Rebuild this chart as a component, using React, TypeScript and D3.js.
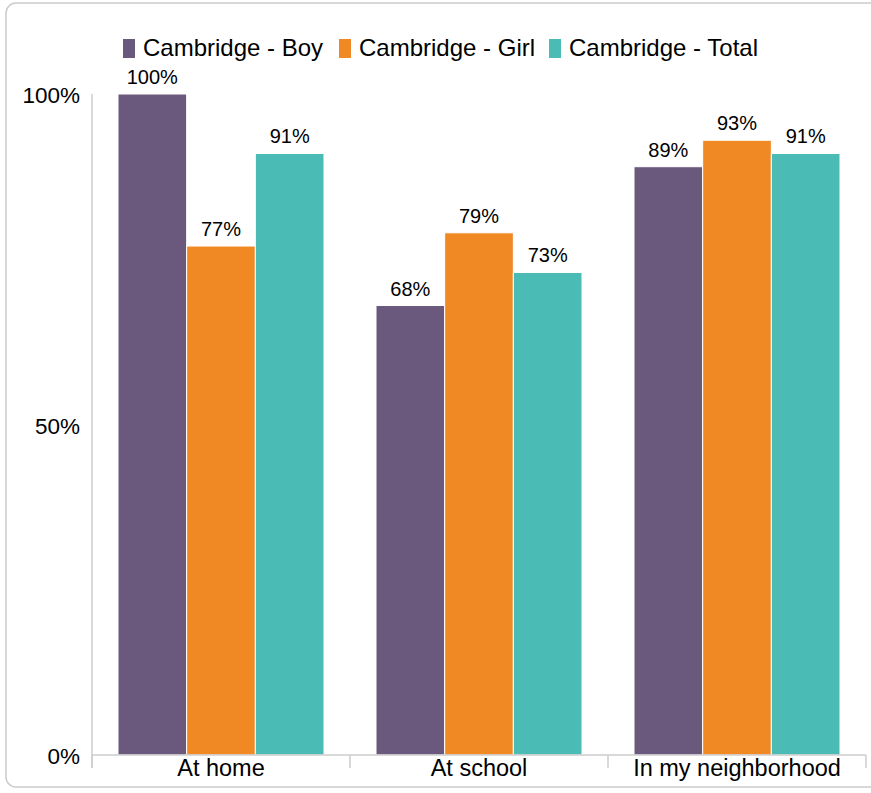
import React from "react";
import * as d3 from "d3";

const categories = ["At home", "At school", "In my neighborhood"];
const seriesNames = ["Cambridge - Boy", "Cambridge - Girl", "Cambridge - Total"];
const boyValues = [100, 68, 89];
const girlValues = [77, 79, 93];
const totalValues = [91, 73, 91];
const yTicks = [0, 50, 100];
const colors = ["#6a587d", "#f08824", "#4bbbb5"];

export default function App() {
  const width = 871;
  const height = 793;
  const left = 92;
  const right = 866;
  const top = 94;
  const bottom = 755;
  const series = [boyValues, girlValues, totalValues];

  const x = d3.scaleBand<string>().domain(categories).range([left, right]).paddingInner(0).paddingOuter(0);
  const inner = d3
    .scaleBand<string>()
    .domain(seriesNames)
    .range([26, x.bandwidth() - 26])
    .padding(0);
  const y = d3.scaleLinear().domain([0, 100]).range([bottom, top]);
  const font = "Arial, 'Liberation Sans', sans-serif";
  const legendX = [123, 339, 549];

  return (
    <svg
      width={width}
      height={height}
      style={{ position: "absolute", left: 0, top: 0, fontFamily: font }}
    >
      <rect x={6} y={3} width={880} height={784} rx={10} fill="#fff" stroke="#cccccc" strokeWidth={1.5} />
      {/* legend */}
      {seriesNames.map((name, i) => {
        const lx = legendX[i];
        return (
          <g key={name}>
            <rect x={lx} y={39} width={12} height={19} fill={colors[i]} />
            <text x={lx + 20} y={56} fontSize={24} fill="#000">
              {name}
            </text>
          </g>
        );
      })}
      {/* y axis */}
      <line x1={left} x2={left} y1={top} y2={768} stroke="#cccccc" strokeWidth={1.5} />
      {yTicks.map((t) => (
        <text key={t} x={80} y={y(t) + 9} fontSize={22.5} textAnchor="end" fill="#000">
          {t}%
        </text>
      ))}
      {/* bars */}
      {categories.map((c, ci) =>
        seriesNames.map((s, si) => {
          const v = series[si][ci];
          const bx = (x(c) ?? 0) + (inner(s) ?? 0);
          return (
            <g key={c + s}>
              <rect
                x={bx}
                y={y(v)}
                width={inner.bandwidth()}
                height={bottom - y(v)}
                fill={colors[si]}
                stroke="#ffffff"
                strokeWidth={1}
              />
              <text
                x={bx + inner.bandwidth() / 2}
                y={y(v) - 10}
                fontSize={20}
                textAnchor="middle"
                fill="#000"
              >
                {v}%
              </text>
            </g>
          );
        })
      )}
      {/* x axis */}
      <line x1={left} x2={right} y1={bottom} y2={bottom} stroke="#cccccc" strokeWidth={1.5} />
      {[...categories.map((c) => x(c) ?? 0), right].map((tx, i) => (
        <line key={i} x1={tx} x2={tx} y1={bottom} y2={768} stroke="#cccccc" strokeWidth={1.5} />
      ))}
      {categories.map((c) => (
        <text
          key={c}
          x={(x(c) ?? 0) + x.bandwidth() / 2}
          y={776}
          fontSize={23.5}
          textAnchor="middle"
          fill="#000"
        >
          {c}
        </text>
      ))}
    </svg>
  );
}
